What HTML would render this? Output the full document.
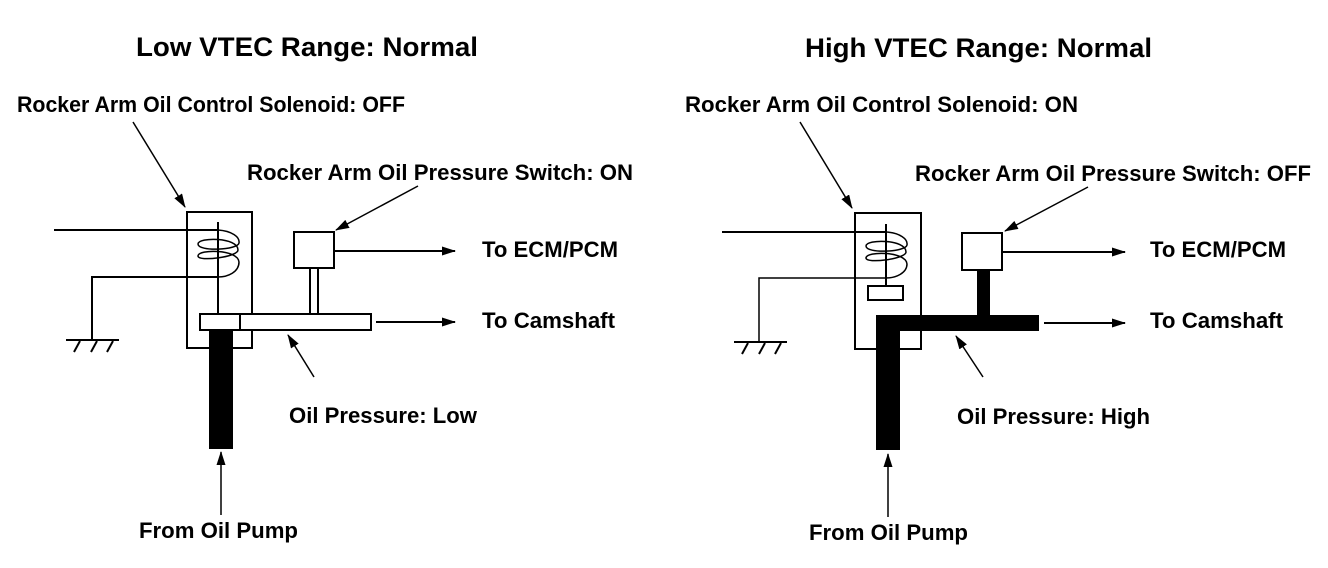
<!DOCTYPE html>
<html><head><meta charset="utf-8"><style>
html,body{margin:0;padding:0;background:#fff}
svg{display:block}
text{font-family:"Liberation Sans",Arial,sans-serif;font-weight:bold;fill:#000}
</style></head><body>
<svg width="1328" height="568" viewBox="0 0 1328 568" xmlns="http://www.w3.org/2000/svg">
<defs>
<marker id="ah" markerWidth="14" markerHeight="9" refX="13" refY="4.5" orient="auto" markerUnits="userSpaceOnUse">
<path d="M0,0 L14,4.5 L0,9 z" fill="#000"/></marker>
</defs>
<g stroke="#000" fill="none" stroke-width="2">
<!-- LEFT -->
<rect x="187" y="212" width="65" height="136"/>
<line x1="54" y1="230" x2="218" y2="230"/>
<line x1="218" y1="222" x2="218" y2="314"/>
<path d="M218,230 C232,231 240,237 239,243 C238,250 198,252 198,244 C198,237 238,237 238,250 C238,257 198,262 198,256 C198,249 238,249 239,262 C239,272 228,277 218,277" stroke-width="1.5"/>
<polyline points="218,277 92,277 92,340"/>
<line x1="66" y1="340" x2="119" y2="340"/>
<line x1="74" y1="352" x2="80" y2="341"/><line x1="91" y1="352" x2="97" y2="341"/><line x1="107" y1="352" x2="113" y2="341"/>
<rect x="200" y="314" width="171" height="16" fill="#fff"/>
<line x1="240" y1="314" x2="240" y2="330"/>
<rect x="294" y="232" width="40" height="36"/>
<line x1="310" y1="268" x2="310" y2="314"/><line x1="318" y1="268" x2="318" y2="314"/>
<line x1="334" y1="251" x2="455" y2="251" marker-end="url(#ah)"/>
<line x1="376" y1="322" x2="455" y2="322" marker-end="url(#ah)"/>
<line x1="133" y1="122" x2="185" y2="207" marker-end="url(#ah)" stroke-width="1.5"/>
<line x1="418" y1="186" x2="336" y2="230" marker-end="url(#ah)" stroke-width="1.5"/>
<line x1="314" y1="377" x2="288" y2="335" marker-end="url(#ah)" stroke-width="1.5"/>
<line x1="221" y1="515" x2="221" y2="452" marker-end="url(#ah)" stroke-width="1.5"/>
<!-- RIGHT -->
<rect x="855" y="213" width="66" height="136"/>
<line x1="722" y1="232" x2="886" y2="232"/>
<line x1="886" y1="224" x2="886" y2="286"/>
<path d="M886,232 C900,233 908,239 907,245 C906,252 866,254 866,246 C866,239 906,239 906,252 C906,259 866,264 866,258 C866,251 906,251 907,264 C907,273 896,278 886,278" stroke-width="1.5"/>
<rect x="868" y="286" width="35" height="14"/>
<polyline points="886,278 759,278 759,342" stroke-width="1.5"/>
<line x1="734" y1="342" x2="787" y2="342"/>
<line x1="742" y1="354" x2="748" y2="343"/><line x1="759" y1="354" x2="765" y2="343"/><line x1="775" y1="354" x2="781" y2="343"/>
<rect x="962" y="233" width="40" height="37"/>
<line x1="1002" y1="252" x2="1125" y2="252" marker-end="url(#ah)"/>
<line x1="1044" y1="323" x2="1125" y2="323" marker-end="url(#ah)"/>
<line x1="800" y1="122" x2="852" y2="208" marker-end="url(#ah)" stroke-width="1.5"/>
<line x1="1088" y1="187" x2="1005" y2="231" marker-end="url(#ah)" stroke-width="1.5"/>
<line x1="983" y1="377" x2="956" y2="336" marker-end="url(#ah)" stroke-width="1.5"/>
<line x1="888" y1="517" x2="888" y2="454" marker-end="url(#ah)" stroke-width="1.5"/>
</g>
<g fill="#000">
<rect x="209" y="331" width="24" height="118"/>
<rect x="876" y="315" width="163" height="16"/>
<rect x="876" y="315" width="24" height="135"/>
<rect x="977" y="270" width="13" height="45"/>
</g>
<g font-size="27">
<text x="136" y="56" textLength="342" lengthAdjust="spacingAndGlyphs">Low VTEC Range: Normal</text>
<text x="805" y="57" textLength="347" lengthAdjust="spacingAndGlyphs">High VTEC Range: Normal</text>
</g>
<g font-size="22">
<text x="17" y="112" textLength="388" lengthAdjust="spacingAndGlyphs">Rocker Arm Oil Control Solenoid: OFF</text>
<text x="247" y="180" textLength="386" lengthAdjust="spacingAndGlyphs">Rocker Arm Oil Pressure Switch: ON</text>
<text x="482" y="257" textLength="136" lengthAdjust="spacingAndGlyphs">To ECM/PCM</text>
<text x="482" y="328" textLength="133" lengthAdjust="spacingAndGlyphs">To Camshaft</text>
<text x="289" y="423" textLength="188" lengthAdjust="spacingAndGlyphs">Oil Pressure: Low</text>
<text x="139" y="538" textLength="159" lengthAdjust="spacingAndGlyphs">From Oil Pump</text>
<text x="685" y="112" textLength="393" lengthAdjust="spacingAndGlyphs">Rocker Arm Oil Control Solenoid: ON</text>
<text x="915" y="181" textLength="396" lengthAdjust="spacingAndGlyphs">Rocker Arm Oil Pressure Switch: OFF</text>
<text x="1150" y="257" textLength="136" lengthAdjust="spacingAndGlyphs">To ECM/PCM</text>
<text x="1150" y="328" textLength="133" lengthAdjust="spacingAndGlyphs">To Camshaft</text>
<text x="957" y="424" textLength="193" lengthAdjust="spacingAndGlyphs">Oil Pressure: High</text>
<text x="809" y="540" textLength="159" lengthAdjust="spacingAndGlyphs">From Oil Pump</text>
</g>
</svg>
</body></html>
